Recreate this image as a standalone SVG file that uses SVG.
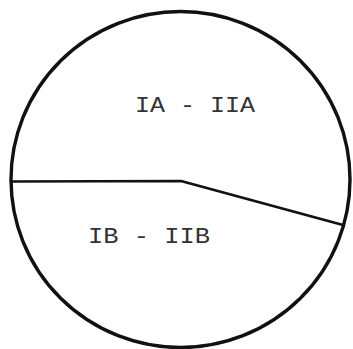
<svg xmlns="http://www.w3.org/2000/svg" width="353" height="349" viewBox="0 0 353 349">
<style>
.ln{fill:none;stroke:#111;stroke-linejoin:round;stroke-linecap:round}
.lbl{font-family:"Liberation Mono","Courier New",monospace;font-size:22px;fill:#333}
</style>
<rect width="353" height="349" fill="#fff"/>
<g id="circle"><ellipse class="ln" cx="180.5" cy="179.5" rx="169.5" ry="168" stroke-width="3.4"/></g>
<g id="connectors"><polyline class="ln" points="11,181.5 181,181 343,225" stroke-width="2.7"/></g>
<g id="regionA"><text class="lbl" x="135" y="112" textLength="120" lengthAdjust="spacingAndGlyphs">IA - IIA</text></g>
<g id="regionB"><text class="lbl" x="88" y="243" textLength="122" lengthAdjust="spacingAndGlyphs">IB - IIB</text></g>
</svg>
